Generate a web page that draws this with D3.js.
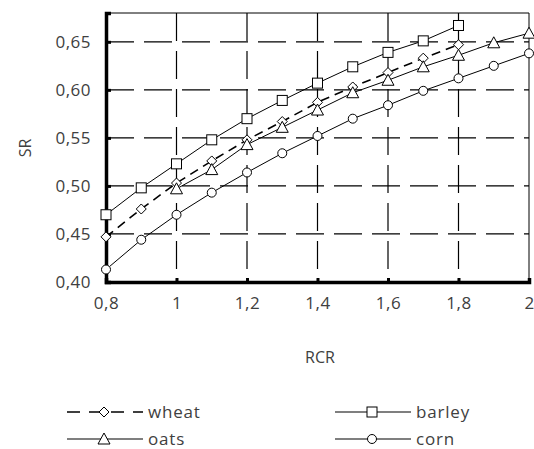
<!DOCTYPE html>
<html>
<head>
<meta charset="utf-8">
<script src="https://cdn.jsdelivr.net/npm/d3@7"></script>
<style>
body { margin: 0; background: #fff; }
text { font-family: "Open Sans", sans-serif; fill: #404040; }
</style>
</head>
<body>
<div id="chart"></div>
<script>
// data
var wheatX  = [0.8, 0.9, 1.0, 1.1, 1.2, 1.3, 1.4, 1.5, 1.6, 1.7, 1.8];
var wheatY  = [0.447, 0.476, 0.503, 0.526, 0.548, 0.567, 0.587, 0.603, 0.618, 0.633, 0.647];
var barleyX = [0.8, 0.9, 1.0, 1.1, 1.2, 1.3, 1.4, 1.5, 1.6, 1.7, 1.8];
var barleyY = [0.470, 0.498, 0.523, 0.548, 0.570, 0.589, 0.607, 0.624, 0.639, 0.651, 0.667];
var oatsX   = [1.0, 1.1, 1.2, 1.3, 1.4, 1.5, 1.6, 1.7, 1.8, 1.9, 2.0];
var oatsY   = [0.497, 0.517, 0.543, 0.561, 0.579, 0.597, 0.610, 0.624, 0.636, 0.649, 0.659];
var cornX   = [0.8, 0.9, 1.0, 1.1, 1.2, 1.3, 1.4, 1.5, 1.6, 1.7, 1.8, 1.9, 2.0];
var cornY   = [0.413, 0.444, 0.470, 0.493, 0.514, 0.534, 0.552, 0.570, 0.584, 0.599, 0.612, 0.625, 0.638];

var xTicks = [0.8, 1.0, 1.2, 1.4, 1.6, 1.8, 2.0];
var yTicks = [0.40, 0.45, 0.50, 0.55, 0.60, 0.65];

var W = 534, H = 449;
var pLeft = 106, pRight = 529, pTop = 13, pBottom = 282;

var svg = d3.select("#chart").append("svg")
	.attr("width", W)
	.attr("height", H);

var x = d3.scaleLinear().domain([0.8, 2.0]).range([pLeft, pRight]);
var y = d3.scaleLinear().domain([0.40, 0.68]).range([pBottom, pTop]);

function comma(s) { return s.replace(".", ","); }

// grid
svg.selectAll(".hgrid").data(yTicks.slice(1)).enter().append("line")
	.attr("x1", pLeft).attr("x2", pRight)
	.attr("y1", function(d){ return y(d); }).attr("y2", function(d){ return y(d); })
	.attr("stroke", "#000").attr("stroke-width", 1.2)
	.attr("stroke-dasharray", "28,10");

svg.selectAll(".vgrid").data(xTicks.slice(1, -1)).enter().append("line")
	.attr("x1", function(d){ return x(d); }).attr("x2", function(d){ return x(d); })
	.attr("y1", pTop).attr("y2", pBottom)
	.attr("stroke", "#000").attr("stroke-width", 1.2)
	.attr("stroke-dasharray", "28,10");

// frame
svg.append("line").attr("x1", pLeft).attr("x2", pRight).attr("y1", pTop).attr("y2", pTop)
	.attr("stroke", "#000").attr("stroke-width", 1);
svg.append("line").attr("x1", pRight).attr("x2", pRight).attr("y1", pTop).attr("y2", pBottom)
	.attr("stroke", "#000").attr("stroke-width", 1);

// axes
var yAxis = d3.axisLeft(y).tickValues(yTicks).tickSize(-5).tickPadding(15)
	.tickFormat(function(d){ return comma(d3.format(".2f")(d)); });
var gy = svg.append("g").attr("transform", "translate(" + pLeft + ",0)").call(yAxis);

var xAxis = d3.axisBottom(x).tickValues(xTicks).tickSize(-4).tickPadding(22)
	.tickFormat(function(d){ return comma(d3.format("~g")(d)); });
var gx = svg.append("g").attr("transform", "translate(0," + pBottom + ")").call(xAxis);

[gy, gx].forEach(function(g){
	g.select(".domain").attr("stroke", "#000").attr("stroke-width", 3.5);
	g.selectAll(".tick line").attr("stroke", "#000").attr("stroke-width", 3);
	g.selectAll(".tick text").style("font-size", "17px").attr("fill", "#404040")
		.style("letter-spacing", "0.5px");
});
gx.selectAll(".tick text").attr("dy", "0.32em");

svg.append("text")
	.attr("transform", "translate(31,148) rotate(-90)")
	.attr("text-anchor", "middle")
	.style("font-size", "16px")
	.text("SR");

svg.append("text")
	.attr("x", 320).attr("y", 363)
	.attr("text-anchor", "middle")
	.style("font-size", "16px")
	.text("RCR");

// markers
function marker(g, type, cx, cy) {
	if (type === "square") {
		g.append("rect").attr("x", cx - 5).attr("y", cy - 5).attr("width", 10).attr("height", 10)
			.attr("fill", "#fff").attr("stroke", "#000").attr("stroke-width", 1);
	} else if (type === "diamond") {
		g.append("path").attr("d", "M" + cx + "," + (cy - 5) + "L" + (cx + 5) + "," + cy + "L" + cx + "," + (cy + 5) + "L" + (cx - 5) + "," + cy + "Z")
			.attr("fill", "#fff").attr("stroke", "#000").attr("stroke-width", 1);
	} else if (type === "triangle") {
		g.append("path").attr("d", "M" + cx + "," + (cy - 6) + "L" + (cx + 6) + "," + (cy + 5) + "L" + (cx - 6) + "," + (cy + 5) + "Z")
			.attr("fill", "#fff").attr("stroke", "#000").attr("stroke-width", 1);
	} else {
		g.append("circle").attr("cx", cx).attr("cy", cy).attr("r", 4.5)
			.attr("fill", "#fff").attr("stroke", "#000").attr("stroke-width", 1);
	}
}

var series = [
	{name: "wheat", xs: wheatX, ys: wheatY, type: "diamond", dash: "9,6", width: 1.6},
	{name: "barley", xs: barleyX, ys: barleyY, type: "square", dash: null, width: 1},
	{name: "oats", xs: oatsX, ys: oatsY, type: "triangle", dash: null, width: 1},
	{name: "corn", xs: cornX, ys: cornY, type: "circle", dash: null, width: 1}
];

var line = d3.line().x(function(d){ return x(d[0]); }).y(function(d){ return y(d[1]); });

series.forEach(function(s){
	var pts = d3.zip(s.xs, s.ys);
	svg.append("path").datum(pts)
		.attr("d", line)
		.attr("fill", "none").attr("stroke", "#000")
		.attr("stroke-width", s.width)
		.attr("stroke-dasharray", s.dash);
});
series.forEach(function(s){
	var g = svg.append("g");
	d3.zip(s.xs, s.ys).forEach(function(p){ marker(g, s.type, x(p[0]), y(p[1])); });
});

// legend
var legendPos = [
	{lx: 67, ly: 412}, {lx: 335, ly: 412},
	{lx: 67, ly: 439}, {lx: 335, ly: 439}
];
series.forEach(function(s, i){
	var p = legendPos[i];
	var g = svg.append("g");
	g.append("line").attr("x1", p.lx).attr("x2", p.lx + 76).attr("y1", p.ly).attr("y2", p.ly)
		.attr("stroke", "#000").attr("stroke-width", s.dash ? 1.6 : 1.2)
		.attr("stroke-dasharray", s.dash ? "13,9" : null);
	marker(g, s.type, p.lx + 37, p.ly);
	g.append("text").attr("x", p.lx + 81).attr("y", p.ly).attr("dy", "0.33em")
		.style("font-size", "17px").style("letter-spacing", "0.8px")
		.text(s.name);
});
</script>
</body>
</html>
